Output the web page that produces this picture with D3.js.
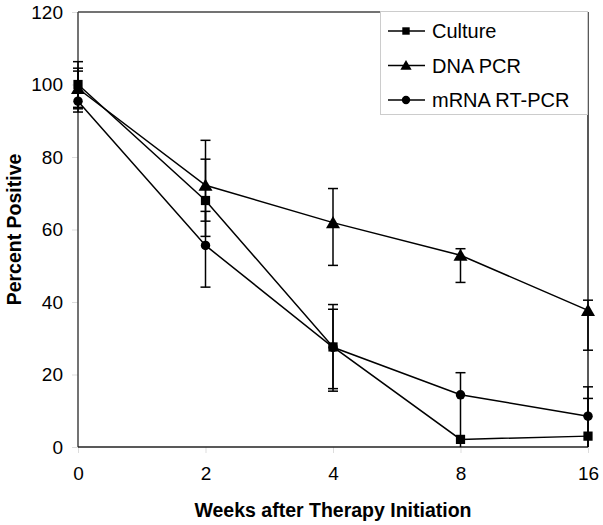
<!DOCTYPE html>
<html><head><meta charset="utf-8">
<script src="https://cdn.jsdelivr.net/npm/d3@7"></script>
<style>body{margin:0;background:#fff}svg{display:block}text{font-family:"Liberation Sans",Arial,sans-serif}</style>
</head><body><div id="chart"></div>
<script>
const weeks = ["0", "2", "4", "8", "16"];
const seriesNames = ["Culture", "DNA PCR", "mRNA RT-PCR"];
const culture = [100, 68, 27.6, 2.1, 3.0];
const dnaPcr = [98.9, 72.2, 61.9, 52.9, 37.7];
const mrnaRtPcr = [95.4, 55.6, 27.5, 14.4, 8.5];
// error bar ends (high / low)
const cultureHi = [106.3, 79.4, 39.3, 2.1, 13.4];
const cultureLo = [93.7, 58.1, 15.4, 2.1, 0];
const dnaHi = [104.5, 84.6, 71.3, 54.7, 40.5];
const dnaLo = [93.3, 62.3, 50.1, 45.4, 26.7];
const mrnaHi = [103.7, 65.0, 38.0, 20.5, 16.6];
const mrnaLo = [92.4, 44.1, 16.1, 0, 0];
const yTicks = [0, 20, 40, 60, 80, 100, 120];

const W = 603, H = 525;
const m = {left: 78, right: 15, top: 12, bottom: 78};
const svg = d3.select("#chart").append("svg").attr("width", W).attr("height", H);
const x = d3.scalePoint().domain(weeks).range([m.left, W - m.right]);
const y = d3.scaleLinear().domain([0, 120]).range([H - m.bottom, m.top]);

const series = [
  {name: seriesNames[0], v: culture, hi: cultureHi, lo: cultureLo, shape: "square"},
  {name: seriesNames[1], v: dnaPcr, hi: dnaHi, lo: dnaLo, shape: "triangle"},
  {name: seriesNames[2], v: mrnaRtPcr, hi: mrnaHi, lo: mrnaLo, shape: "circle"}
];

// axes
const yAxis = svg.append("g").attr("transform", `translate(${m.left},0)`)
  .call(d3.axisLeft(y).tickValues(yTicks).tickSize(6).tickPadding(9));
const xAxis = svg.append("g").attr("transform", `translate(0,${H - m.bottom})`)
  .call(d3.axisBottom(x).tickSize(6).tickPadding(14));
[yAxis, xAxis].forEach(g => {
  g.select(".domain").remove();
  g.selectAll(".tick line").attr("stroke", "#ddd");
  g.selectAll(".tick text").attr("font-size", 19).attr("fill", "#000")
    .attr("font-family", "Liberation Sans, Arial, sans-serif");
});

// frame
const x0 = m.left, x1 = W - m.right, y0 = H - m.bottom, y1 = m.top;
svg.append("line").attr("x1", x0).attr("x2", x0).attr("y1", y1).attr("y2", y0).attr("stroke", "#444").attr("stroke-width", 1.5);
svg.append("line").attr("x1", x0).attr("x2", x1).attr("y1", y1).attr("y2", y1).attr("stroke", "#444").attr("stroke-width", 1.5);
svg.append("line").attr("x1", x1).attr("x2", x1).attr("y1", y1).attr("y2", y0).attr("stroke", "#222").attr("stroke-width", 1.5);
svg.append("line").attr("x1", x0).attr("x2", x1).attr("y1", y0).attr("y2", y0).attr("stroke", "#222").attr("stroke-width", 1.5);

const sym = {
  square: d3.symbol().type(d3.symbolSquare).size(85),
  triangle: d3.symbol().type(d3.symbolTriangle).size(85),
  circle: d3.symbol().type(d3.symbolCircle).size(70)
};

const line = d3.line().x((d, i) => x(weeks[i])).y(d => y(d));
series.forEach(s => {
  const g = svg.append("g");
  // error bars
  weeks.forEach((w, i) => {
    const cx = x(w);
    g.append("line").attr("x1", cx).attr("x2", cx).attr("y1", y(s.hi[i])).attr("y2", y(s.lo[i]))
      .attr("stroke", "#000").attr("stroke-width", 1.5);
    if (s.hi[i] !== s.v[i]) g.append("line").attr("x1", cx - 5).attr("x2", cx + 5).attr("y1", y(s.hi[i])).attr("y2", y(s.hi[i])).attr("stroke", "#000").attr("stroke-width", 1.5);
    if (s.lo[i] > 0 && s.lo[i] !== s.v[i]) g.append("line").attr("x1", cx - 5).attr("x2", cx + 5).attr("y1", y(s.lo[i])).attr("y2", y(s.lo[i])).attr("stroke", "#000").attr("stroke-width", 1.5);
  });
  g.append("path").attr("d", line(s.v)).attr("fill", "none").attr("stroke", "#000").attr("stroke-width", 1.5);
  g.selectAll("path.m").data(s.v).enter().append("path").attr("class", "m")
    .attr("d", sym[s.shape]).attr("transform", (d, i) => `translate(${x(weeks[i])},${y(d) + (s.shape === "triangle" ? 1.5 : 0)})`)
    .attr("fill", "#000");
});

// legend
const lg = svg.append("g");
lg.append("rect").attr("x", 380.5).attr("y", 11.5).attr("width", 207).attr("height", 103)
  .attr("fill", "#fff").attr("stroke", "#ccc").attr("stroke-width", 1);
series.forEach((s, i) => {
  const ly = 31 + i * 34.5;
  lg.append("line").attr("x1", 388).attr("x2", 425).attr("y1", ly).attr("y2", ly).attr("stroke", "#000").attr("stroke-width", 1.5);
  lg.append("path").attr("d", d3.symbol().type(s.shape === "square" ? d3.symbolSquare : s.shape === "triangle" ? d3.symbolTriangle : d3.symbolCircle).size(55))
    .attr("transform", `translate(406,${ly + (s.shape === "triangle" ? 1 : 0)})`).attr("fill", "#000");
  lg.append("text").attr("x", 432).attr("y", ly + 7).attr("font-size", 20).text(s.name);
});

// axis titles
svg.append("text").attr("x", (x0 + x1) / 2).attr("y", 517).attr("text-anchor", "middle")
  .attr("font-size", 19.5).attr("font-weight", "bold").text("Weeks after Therapy Initiation");
svg.append("text").attr("transform", `translate(21,${(y0 + y1) / 2}) rotate(-90)`).attr("text-anchor", "middle")
  .attr("font-size", 19.5).attr("font-weight", "bold").text("Percent Positive");
</script></body></html>
